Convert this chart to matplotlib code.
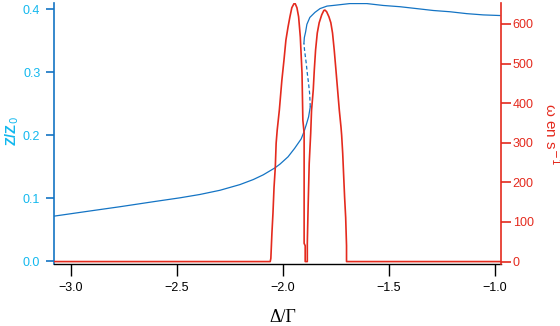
import numpy as np
import matplotlib
matplotlib.use('Agg')
import matplotlib.pyplot as plt

# Z/Z0 contra Delta/Gamma (rama inferior, rama media inestable, rama superior)
x_low = [-3.080, -2.923, -2.766, -2.608, -2.486, -2.392, -2.297, -2.203, -2.140, -2.093,
         -2.038, -2.014, -1.976, -1.945, -1.914, -1.901, -1.890, -1.879, -1.871]
z_low = [0.0714, 0.079, 0.0865, 0.0945, 0.1005, 0.1058, 0.1125, 0.1215, 0.1295, 0.137,
         0.148, 0.154, 0.1656, 0.179, 0.194, 0.205, 0.2165, 0.229, 0.245]
x_mid = [-1.871, -1.874, -1.879, -1.885, -1.890, -1.898, -1.901]
z_mid = [0.245, 0.266, 0.282, 0.298, 0.314, 0.335, 0.346]
x_up = [-1.901, -1.899, -1.893, -1.887, -1.873, -1.849, -1.825, -1.792, -1.763, -1.684,
        -1.605, -1.527, -1.448, -1.369, -1.291, -1.212, -1.133, -1.055, -0.976]
z_up = [0.346, 0.355, 0.364, 0.376, 0.387, 0.395, 0.401, 0.405, 0.406, 0.409,
        0.409, 0.406, 0.404, 0.401, 0.398, 0.396, 0.393, 0.391, 0.390]

# omega en s^-1
x_w = [-3.080, -2.060, -2.057, -2.052, -2.047, -2.042, -2.036, -2.032, -2.027, -2.022,
       -2.017, -2.005, -1.995, -1.986, -1.976, -1.967, -1.958, -1.948, -1.942, -1.934,
       -1.926, -1.918, -1.910, -1.906, -1.900, -1.900, -1.895, -1.895, -1.885,
       -1.885, -1.881, -1.876, -1.869, -1.865, -1.857, -1.852, -1.846, -1.838, -1.829,
       -1.817, -1.807, -1.802, -1.794, -1.783, -1.774, -1.766, -1.758, -1.750, -1.742,
       -1.734, -1.726, -1.723, -1.718, -1.714, -1.709, -1.704, -1.700, -1.700, -0.975]
w = [0, 0, 8, 71, 122, 187, 238, 299, 332, 357,
     382, 458, 509, 559, 592, 618, 641, 651, 651, 641,
     618, 567, 476, 357, 324, 46, 40, 0, 0,
     46, 142, 248, 324, 382, 433, 484, 534, 577, 603,
     623, 634, 635, 631, 618, 603, 577, 534, 484, 433,
     382, 339, 319, 273, 223, 162, 111, 40, 0, 0]

xticks = [-3.0, -2.5, -2.0, -1.5, -1.0]
zticks = [0.0, 0.1, 0.2, 0.3, 0.4]
wticks = [0, 100, 200, 300, 400, 500, 600]

azul = '#1474c4'
cian = '#12b8ee'
rojo = '#e42a1e'

plt.rcParams['font.family'] = ['Liberation Sans', 'DejaVu Sans']

fig = plt.figure(figsize=(5.6, 3.26), dpi=100)
ax = fig.add_axes([0.0964, 0.189, 0.7976, 0.802])
ax2 = ax.twinx()

ax.plot(x_low, z_low, color=azul, lw=0.9)
ax.plot(x_mid, z_mid, color=azul, lw=0.9, ls=(0, (3, 2)))
ax.plot(x_up, z_up, color=azul, lw=0.9)
ax2.plot(x_w, w, color=rojo, lw=1.2)

ax.set_xlim(-3.08, -0.973)
ax.set_ylim(-0.0052, 0.410)
ax2.set_ylim(-7.1, 653)

ax.set_xticks(xticks)
ax.set_xticklabels([f'{t:.1f}'.replace('-', '\u2212') for t in xticks])
ax.set_yticks(zticks)
ax.set_yticklabels([f'{t:.1f}' for t in zticks])
ax2.set_yticks(wticks)

for a in (ax, ax2):
    a.spines['top'].set_visible(False)
ax.spines['right'].set_visible(False)
ax2.spines['left'].set_visible(False)
ax2.spines['bottom'].set_visible(False)
ax.spines['left'].set_color(azul)
ax.spines['left'].set_linewidth(1.2)
ax.spines['bottom'].set_color('black')
ax.spines['bottom'].set_linewidth(1.0)
ax2.spines['right'].set_color(rojo)
ax2.spines['right'].set_linewidth(1.2)

ax.tick_params(axis='x', direction='out', length=8.6, width=1.0, pad=4,
               labelsize=9, colors='black')
ax.tick_params(axis='y', direction='out', length=5.8, width=1.2, pad=4,
               labelsize=9, color=azul, labelcolor=cian)
ax2.tick_params(axis='y', direction='out', length=7.2, width=1.2, pad=1.5,
                labelsize=9, color=rojo, labelcolor=rojo)

fig.text(283 / 560, 1 - 318 / 326, '\u0394/\u0393', family='Liberation Serif',
         fontsize=13, ha='center', va='center')
fig.text(12 / 560, 1 - 131 / 326, 'Z/Z$_0$', color=cian, fontsize=10.5,
         fontweight='bold', rotation=90, ha='center', va='center')
fig.text(551 / 560, 1 - 134 / 326, '\u03c9 en s$^{-1}$', color=rojo, fontsize=11,
         rotation=270, ha='center', va='center')

fig.savefig('out.png', dpi=100)
